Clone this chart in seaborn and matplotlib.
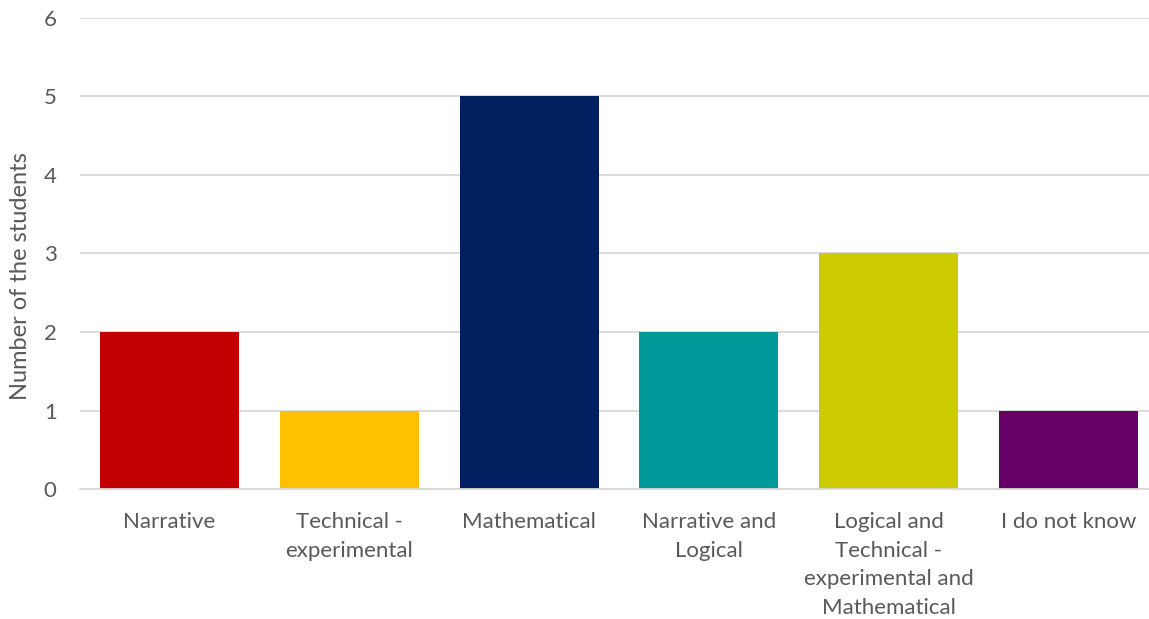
import matplotlib
matplotlib.use("Agg")
import matplotlib.pyplot as plt
import seaborn as sns
import pandas as pd

categories = ["Narrative", "Technical -\nexperimental", "Mathematical",
              "Narrative and\nLogical", "Logical and\nTechnical -\nexperimental and\nMathematical",
              "I do not know"]
values = [2, 1, 5, 2, 3, 1]
colors = ["#C00000", "#FFC000", "#002060", "#009999", "#CCCC00", "#660066"]
y_ticks = [0, 1, 2, 3, 4, 5, 6]
y_label = "Number of the students"

sns.set_theme(style="white")
plt.rcParams['font.family'] = ['Lato', 'DejaVu Sans']

df = pd.DataFrame({"category": categories, "value": values})

fig = plt.figure(figsize=(11.49, 6.19), dpi=100)
ax = fig.add_axes([79.6 / 1149, 0.21, 1078.8 / 1149, 0.761])

sns.barplot(data=df, x="category", y="value", hue="category", palette=colors,
            legend=False, width=0.773, ax=ax, saturation=1, linewidth=0,
            edgecolor="none")

ax.set_ylim(0, 6)
ax.set_yticks(y_ticks)
ax.yaxis.grid(True, color="#d9d9d9", linewidth=1.3)
ax.set_axisbelow(True)
for s in ["top", "right", "left"]:
    ax.spines[s].set_visible(False)
ax.spines["bottom"].set_color("#d9d9d9")
ax.spines["bottom"].set_linewidth(1.3)
ax.tick_params(axis="both", length=0, labelsize=16, labelcolor="#595959")
ax.tick_params(axis="y", pad=16.5)
ax.tick_params(axis="x", pad=16.5)
for lbl in ax.get_xticklabels():
    lbl.set_linespacing(1.54)
ax.set_xlabel("")
ax.set_ylabel(y_label, fontsize=17, color="#595959")
ax.yaxis.set_label_coords(-0.045, 0.451)
ax.set_xlim(-0.5, 5.5)

fig.savefig("out.png", dpi=100)
